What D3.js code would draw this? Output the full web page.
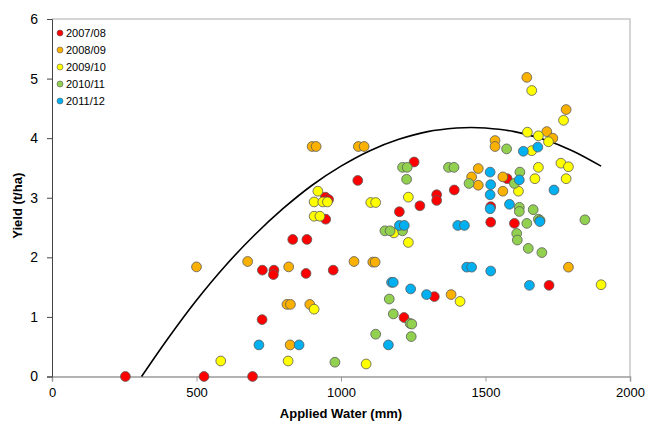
<!DOCTYPE html>
<html>
<head>
<meta charset="utf-8">
<script src="https://cdnjs.cloudflare.com/ajax/libs/d3/7.8.5/d3.min.js"></script>
<style>
  body { margin: 0; background: #fff; }
  svg { display: block; font-family: "Liberation Sans", Arial, sans-serif; }
</style>
</head>
<body>
<svg id="chart" width="647" height="421"></svg>
<script>
// ---- data: [applied water mm, yield t/ha]
const seasons = ["2007/08", "2008/09", "2009/10", "2010/11", "2011/12"];
const seasonColors = ["#ff0000", "#fbb100", "#ffff00", "#92d050", "#00b0f0"];

const pts0708 = [
  [254, 0], [526, 0], [694, 0], [727, 0.955],
  [728, 1.785], [768, 1.785], [766, 1.71], [879, 1.73], [973, 1.785],
  [833, 2.30], [882, 2.30], [947, 2.64], [946, 3.01], [957, 2.97],
  [1058, 3.29], [1253, 3.60], [1392, 3.13], [1331, 3.05], [1331, 2.955],
  [1273, 2.865], [1202, 2.765], [1518, 2.85], [1518, 2.59], [1600, 2.57],
  [1575, 3.32], [1323, 1.34], [1218, 0.99], [1720, 1.53]
];
const pts0809 = [
  [900, 3.86], [914, 3.86], [1060, 3.86], [1080, 3.86],
  [500, 1.84], [677, 1.93], [819, 1.84], [1045, 1.93],
  [813, 1.21], [825, 1.21], [892, 1.21], [824, 0.53],
  [1110, 1.92], [1118, 1.92], [1381, 1.375],
  [1533, 3.96], [1533, 3.86], [1475, 3.49], [1452, 3.35], [1475, 3.21],
  [1560, 3.35], [1560, 3.11], [1643, 5.02], [1779, 4.48], [1712, 4.11],
  [1733, 4.00], [1787, 1.835]
];
const pts0910 = [
  [920, 3.11], [907, 2.93], [937, 2.93], [953, 2.93], [907, 2.69], [927, 2.69],
  [907, 1.13], [584, 0.26], [817, 0.26], [1103, 2.92], [1120, 2.92],
  [1233, 3.01], [1183, 2.41], [1233, 2.25], [1412, 1.26], [1087, 0.21],
  [1660, 4.80], [1770, 4.30], [1645, 4.10], [1683, 4.04], [1718, 3.94],
  [1660, 3.79], [1761, 3.58], [1787, 3.52], [1683, 3.51], [1671, 3.32],
  [1779, 3.32], [1614, 3.11], [1900, 1.54]
];
const pts1011 = [
  [979, 0.24], [1213, 3.51], [1229, 3.51], [1227, 3.31], [1372, 3.51], [1391, 3.51],
  [1443, 3.24], [1152, 2.445], [1170, 2.445], [1213, 2.445],
  [1167, 1.30], [1181, 1.05], [1239, 0.89], [1245, 0.88], [1120, 0.71], [1243, 0.67],
  [1573, 3.82], [1619, 3.43], [1600, 3.24], [1617, 2.84], [1617, 2.77], [1665, 2.80],
  [1683, 2.64], [1689, 2.62], [1844, 2.63], [1643, 2.57],
  [1608, 2.40], [1610, 2.29], [1648, 2.15], [1695, 2.08]
];
const pts1112 = [
  [716, 0.53], [855, 0.53], [1516, 3.43], [1518, 3.22], [1516, 3.05], [1516, 2.815],
  [1202, 2.535], [1219, 2.535], [1404, 2.535], [1427, 2.535],
  [1435, 1.835], [1452, 1.835], [1518, 1.77], [1175, 1.58], [1181, 1.58],
  [1241, 1.47], [1296, 1.375], [1164, 0.53],
  [1631, 3.78], [1681, 3.85], [1617, 3.30], [1737, 3.13], [1583, 2.89], [1688, 2.60],
  [1652, 1.53]
];
const seriesPts = [pts0708, pts0809, pts0910, pts1011, pts1112];

// trend curve
const curveWater = [310, 400, 500, 600, 700, 800, 900, 1000, 1100, 1200, 1300, 1400, 1450, 1500, 1600, 1700, 1800, 1900];
const curveYield = [0, 0.63, 1.28, 1.86, 2.37, 2.82, 3.21, 3.53, 3.79, 3.98, 4.11, 4.17, 4.18, 4.17, 4.11, 3.98, 3.79, 3.53];

const xTicks = [0, 500, 1000, 1500, 2000];
const yTicks = [0, 1, 2, 3, 4, 5, 6];

// ---- layout
const svg = d3.select("#chart");
const plotL = 52, plotR = 630, plotT = 19, plotB = 376.5;

const x = d3.scaleLinear().domain([0, 2000]).range([plotL, plotR]);
const y = d3.scaleLinear().domain([0, 6]).range([plotB, plotT]);

// frame (top/right light grey)
svg.append("path")
  .attr("d", `M${plotL},${plotT}H${plotR}V${plotB}`)
  .attr("fill", "none").attr("stroke", "#c8c8c8").attr("stroke-width", 1.5);

// x axis
const xAxis = svg.append("g")
  .attr("transform", `translate(0,${plotB})`)
  .call(d3.axisBottom(x).tickValues(xTicks).tickFormat(d3.format("d")).tickSize(5).tickPadding(6));
xAxis.select(".domain").attr("stroke", "#9a9a9a").attr("stroke-width", 1.5);
xAxis.selectAll(".tick line").attr("stroke", "#9a9a9a");
xAxis.selectAll("text").attr("font-size", 13).attr("fill", "#000")
  .attr("font-family", "Liberation Sans, Arial, sans-serif");

// y axis
const yAxis = svg.append("g")
  .attr("transform", `translate(${plotL},0)`)
  .call(d3.axisLeft(y).tickValues(yTicks).tickFormat(d3.format("d")).tickSize(5).tickPadding(9));
yAxis.select(".domain").attr("stroke", "#444").attr("stroke-width", 1);
yAxis.selectAll(".tick line").attr("stroke", "#444");
yAxis.selectAll("text").attr("font-size", 14).attr("fill", "#000")
  .attr("font-family", "Liberation Sans, Arial, sans-serif");

// axis titles
svg.append("text")
  .attr("x", (plotL + plotR) / 2).attr("y", 418)
  .attr("text-anchor", "middle").attr("font-size", 13).attr("font-weight", "bold")
  .text("Applied Water (mm)");
svg.append("text")
  .attr("transform", `translate(22,${(plotT + plotB) / 2 + 8}) rotate(-90)`)
  .attr("text-anchor", "middle").attr("font-size", 13).attr("font-weight", "bold")
  .text("Yield (t/ha)");

// trend curve
const curvePts = curveWater.map((w, i) => [w, curveYield[i]]);
svg.append("path")
  .datum(curvePts)
  .attr("fill", "none").attr("stroke", "#000").attr("stroke-width", 1.6)
  .attr("d", d3.line().x(d => x(d[0])).y(d => y(d[1])).curve(d3.curveCatmullRom));

// points, drawn series by series
seriesPts.forEach((pts, i) => {
  svg.append("g").selectAll("circle")
    .data(pts)
    .enter().append("circle")
    .attr("cx", d => x(d[0]))
    .attr("cy", d => y(d[1]))
    .attr("r", 4.9)
    .attr("fill", seasonColors[i])
    .attr("stroke", "#5a5a5a")
    .attr("stroke-width", 0.8);
});

// legend
const legend = svg.append("g").attr("transform", "translate(60,33)");
seasons.forEach((s, i) => {
  const g = legend.append("g").attr("transform", `translate(0,${i * 17})`);
  g.append("circle").attr("r", 3).attr("fill", seasonColors[i])
    .attr("stroke", "#5a5a5a").attr("stroke-width", 0.6);
  g.append("text").attr("x", 6).attr("y", 4).attr("font-size", 11).text(s);
});
</script>
</body>
</html>
